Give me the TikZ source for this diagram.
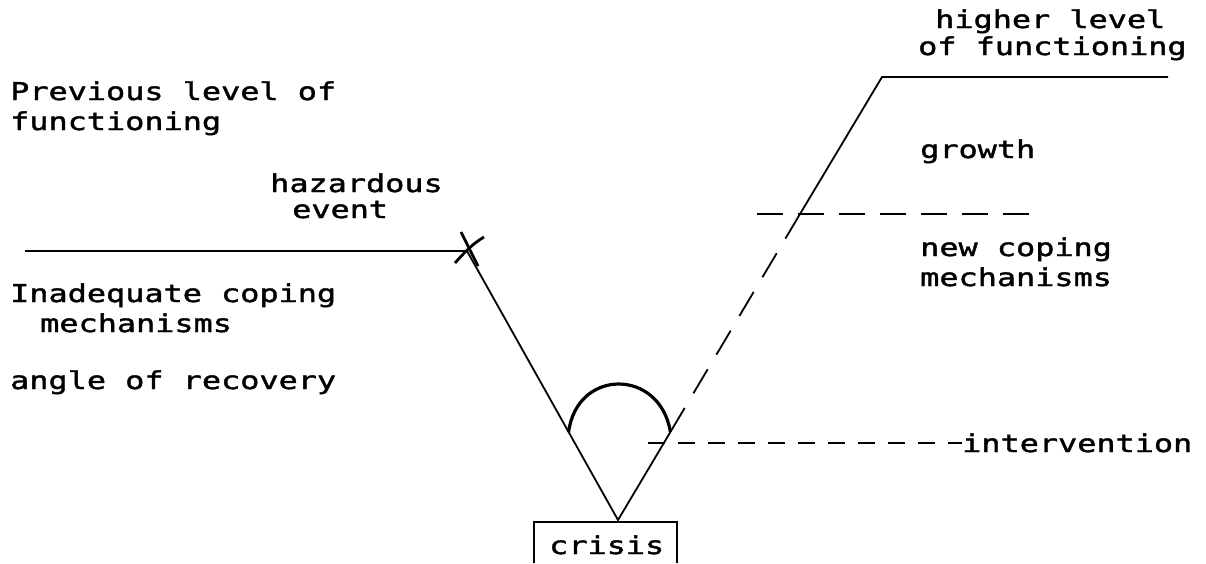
\documentclass[tikz,border=0pt]{standalone}
\usepackage{fontspec}
\newfontfamily\dm[FakeStretch=1.3,FakeBold=1.6]{DejaVu Sans Mono}
\begin{document}
\begin{tikzpicture}[x=1pt,y=-1pt,
  txt/.style={font=\dm\fontsize{24.5}{24.5}\selectfont, inner sep=0pt, anchor=base west},
  ln/.style={line width=1.8pt},
  dsh/.style={line width=1.8pt, dash pattern=on 17pt off 13pt},
  thick arc/.style={line width=3.2pt}]
\useasboundingbox (0,0) rectangle (1206,563);
% key points
\coordinate (L) at (25,251);
\coordinate (X) at (467,251);
\coordinate (B) at (618,520);
\coordinate (A1) at (568.6,432);
\coordinate (A2) at (670.4,432);
\coordinate (D) at (800,214);
\coordinate (T) at (882,77);
\coordinate (R) at (1168,77);
\coordinate (g1) at (757,214);
\coordinate (g2) at (1043,214);
\coordinate (i1) at (648,443);
% texts
\node[txt] (prev1) at (10,100) {Previous level of};
\node[txt] (prev2) at (10,130) {functioning};
\node[txt] (haz1) at (270,192) {hazardous};
\node[txt] (haz2) at (292,218) {event};
\node[txt] (inad1) at (10,302) {Inadequate coping};
\node[txt] (inad2) at (40,332) {mechanisms};
\node[txt] (angle) at (10,389) {angle of recovery};
\node[txt] (high1) at (935,28) {higher level};
\node[txt] (high2) at (918,55) {of functioning};
\node[txt] (growth) at (920,158) {growth};
\node[txt] (new1) at (920,256) {new coping};
\node[txt] (new2) at (920,286) {mechanisms};
\node[txt] (interv) at (962,452) {intervention};
\node[txt] (crisis) at (549,554) {crisis};
% baseline level
\draw[ln] (L) -- (X);
% hazardous event mark
\draw[line width=2.8pt] (461,232) -- (478,266);
\draw[line width=2.8pt] (484,237) .. controls (472,244) and (463,254) .. (455,263);
% descent and recovery
\draw[ln] (X) -- (B) -- (A2);
\draw[ln, dash pattern=on 28pt off 17pt] (A2) -- (D);
\draw[ln] (D) -- (T) -- (R);
% angle of recovery arc
\draw[thick arc] (A1) .. controls (577,368) and (660,368) .. (A2);
% dashed levels
\draw[dsh, dash pattern=on 26pt off 15pt] (g1) -- (g2);
\draw[dsh] (i1) -- (interv.west |- i1);
% crisis box
\draw[ln] (534,563) -- (534,522) -- (677,522) -- (677,563);
\end{tikzpicture}
\end{document}
